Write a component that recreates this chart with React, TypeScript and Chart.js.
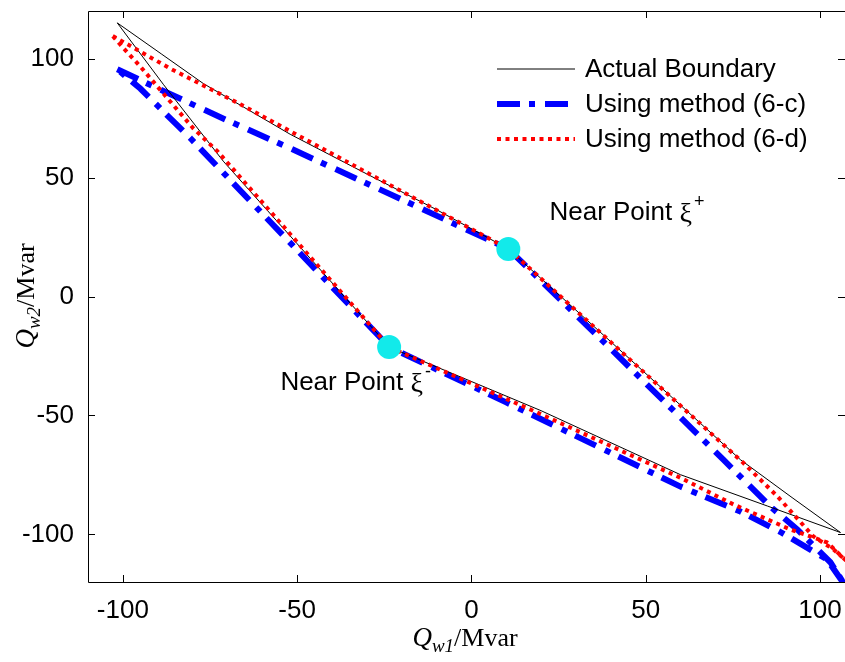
import React, { useEffect, useRef } from "react";
import { Chart, registerables } from "chart.js";

Chart.register(...registerables);

// ---- data ----
const xTicks = [-100, -50, 0, 50, 100];
const yTicks = [-100, -50, 0, 50, 100];

const legendLabels = ["Actual Boundary", "Using method (6-c)", "Using method (6-d)"];

const actualX = [-101.6, -89, -76.9, -52, -30, -10, 10.6, 40, 77.2, 92, 105.9, 85, 60, 20, -23.5, -50, -71.2, -88.3, -101.6];
const actualY = [115, 102, 89.5, 68.2, 51.5, 36.5, 20, -19, -68.6, -84.5, -99.2, -88.1, -74.9, -48, -21.3, 22.2, 56.9, 89, 115];

const methodCX = [-101.6, -90, -70, -52, -20, 10.6, 40, 72.3, 85.8, 93.5, 103, 107.5, 102, 88.7, 77.2, 60, 37, 10, -23.5, -50, -80.6, -95, -101.6];
const methodCY = [95.5, 87.5, 74, 62.3, 40.8, 20, -22, -68.6, -88.3, -97.9, -111.7, -122, -110.5, -99, -90.4, -79.9, -63.6, -44.5, -21.3, 19.5, 66.5, 87.4, 95.5];

const methodDX = [-102.9, -86.4, -66.3, -52, -20, 10.6, 40, 78, 87.8, 98.1, 103.9, 107.5, 102, 91.5, 75.2, 60, 20, -23.5, -50, -72.9, -79.8, -87.2, -95, -100.7, -102.9];
const methodDY = [109.5, 95.8, 80.8, 69.5, 44.2, 20, -19.2, -69.9, -84, -100.8, -106.3, -111, -103.3, -97.9, -87.4, -76.2, -49.5, -21.3, 22.9, 61.1, 70.7, 83.3, 96.7, 105.8, 109.5];

const nearX = [10.6, -23.6];
const nearY = [20, -21.2];
const nearSup = ["+", "-"];
const nearLabelX = [22.4, -54.8];
const nearLabelY = [35.2, -36.4];

const SANS = '"Liberation Sans", Arial, sans-serif';
const SERIF = '"Liberation Serif", "Times New Roman", serif';

const toPts = (xs: number[], ys: number[]) => xs.map((x, i) => ({ x, y: ys[i] }));

const zeroPad = (scale: any) => {
  scale.paddingTop = 0;
  scale.paddingBottom = 0;
  scale.paddingLeft = 0;
  scale.paddingRight = 0;
};

const decorPlugin = {
  id: "decor",
  afterDatasetsDraw(chart: any) {
    const { ctx, chartArea: ca, scales } = chart;
    const xs = scales.x;
    const ys = scales.y;
    ctx.save();
    // frame
    ctx.strokeStyle = "#000";
    ctx.lineWidth = 1;
    ctx.beginPath();
    ctx.moveTo(ca.left + 0.5, ca.top + 0.5);
    ctx.lineTo(ca.right + 0.5, ca.top + 0.5);
    ctx.lineTo(ca.right + 0.5, ca.bottom + 0.5);
    ctx.lineTo(ca.left + 0.5, ca.bottom + 0.5);
    ctx.closePath();
    ctx.stroke();
    // inward ticks
    const tl = 7;
    ctx.beginPath();
    xTicks.forEach((v) => {
      const px = Math.round(xs.getPixelForValue(v)) + 0.5;
      ctx.moveTo(px, ca.bottom);
      ctx.lineTo(px, ca.bottom - tl);
      ctx.moveTo(px, ca.top);
      ctx.lineTo(px, ca.top + tl);
    });
    yTicks.forEach((v) => {
      const py = Math.round(ys.getPixelForValue(v)) + 0.5;
      ctx.moveTo(ca.left, py);
      ctx.lineTo(ca.left + tl, py);
      ctx.moveTo(ca.right, py);
      ctx.lineTo(ca.right - tl, py);
    });
    ctx.stroke();

    // near point labels
    ctx.fillStyle = "#000";
    ctx.textBaseline = "middle";
    ctx.textAlign = "left";
    nearLabelX.forEach((lx, i) => {
      const px = xs.getPixelForValue(lx);
      const py = ys.getPixelForValue(nearLabelY[i]);
      ctx.font = `26px ${SANS}`;
      const base = "Near Point ";
      ctx.fillText(base, px, py);
      let w = ctx.measureText(base).width;
      ctx.font = `28px ${SERIF}`;
      ctx.fillText("ξ", px + w, py + 2);
      w += ctx.measureText("ξ").width;
      ctx.font = `18px ${SANS}`;
      ctx.fillText(nearSup[i], px + w + 2, py - 11);
    });

    // legend
    const lx0 = ca.left + 409;
    const ly0 = ca.top + 58;
    const gap = 35;
    legendLabels.forEach((lab, i) => {
      const ds = chart.data.datasets[i];
      const y = ly0 + i * gap;
      ctx.save();
      ctx.strokeStyle = ds.borderColor;
      ctx.lineWidth = ds.borderWidth;
      ctx.setLineDash(ds.borderDash || []);
      ctx.lineCap = "butt";
      ctx.beginPath();
      ctx.moveTo(lx0, y);
      ctx.lineTo(lx0 + 78, y);
      ctx.stroke();
      ctx.restore();
      ctx.fillStyle = "#000";
      ctx.font = `26px ${SANS}`;
      ctx.textBaseline = "middle";
      ctx.fillText(lab, lx0 + 88, y + 1);
    });

    // axis titles
    const drawTitle = (cx: number, cy: number, sub: string) => {
      ctx.font = `italic 27px ${SERIF}`;
      const wQ = ctx.measureText("Q").width;
      ctx.font = `italic 19px ${SERIF}`;
      const wS = ctx.measureText(sub).width;
      ctx.font = `26px ${SERIF}`;
      const wM = ctx.measureText("/Mvar").width;
      let x = cx - (wQ + wS + wM) / 2;
      ctx.textBaseline = "alphabetic";
      ctx.font = `italic 27px ${SERIF}`;
      ctx.fillText("Q", x, cy);
      x += wQ;
      ctx.font = `italic 19px ${SERIF}`;
      ctx.fillText(sub, x, cy + 6);
      x += wS;
      ctx.font = `26px ${SERIF}`;
      ctx.fillText("/Mvar", x, cy);
    };
    drawTitle(465, 646, "w1");
    ctx.save();
    ctx.translate(34, 296);
    ctx.rotate(-Math.PI / 2);
    drawTitle(0, 0, "w2");
    ctx.restore();

    ctx.restore();
  },
};

export default function App() {
  const ref = useRef<HTMLCanvasElement | null>(null);
  useEffect(() => {
    if (!ref.current) return;
    const chart = new Chart(ref.current, {
      type: "scatter",
      data: {
        datasets: [
          {
            label: legendLabels[0],
            data: toPts(actualX, actualY),
            showLine: true,
            borderColor: "#000000",
            borderWidth: 1,
            pointRadius: 0,
            order: 2,
          },
          {
            label: legendLabels[1],
            data: toPts(methodCX, methodCY),
            showLine: true,
            borderColor: "#0000ff",
            borderWidth: 6,
            borderDash: [23, 9, 6, 10],
            borderCapStyle: "butt",
            pointRadius: 0,
            order: 3,
          },
          {
            label: legendLabels[2],
            data: toPts(methodDX, methodDY),
            showLine: true,
            borderColor: "#ff0000",
            borderWidth: 4,
            borderDash: [4, 4.5],
            borderCapStyle: "butt",
            pointRadius: 0,
            order: 1,
          },
          {
            label: "near",
            data: toPts(nearX, nearY),
            showLine: false,
            pointRadius: 12,
            pointBorderWidth: 0,
            backgroundColor: "#12eaea",
            borderColor: "#12eaea",
            order: 0,
          },
        ],
      },
      options: {
        animation: false,
        responsive: false,
        devicePixelRatio: 1,
        layout: { autoPadding: false, padding: { top: 11, right: 0, left: 0, bottom: 0 } },
        plugins: { legend: { display: false }, tooltip: { enabled: false } },
        scales: {
          x: {
            type: "linear",
            min: -110,
            max: 107.2,
            grid: { display: false },
            border: { display: false },
            afterBuildTicks: (axis: any) => {
              axis.ticks = xTicks.map((v) => ({ value: v }));
            },
            afterFit: (scale: any) => {
              scale.height = 80;
              zeroPad(scale);
            },
            ticks: {
              color: "#000",
              padding: 5,
              maxRotation: 0,
              font: { family: SANS, size: 26 },
            },
          },
          y: {
            type: "linear",
            min: -120,
            max: 120,
            grid: { display: false },
            border: { display: false },
            afterBuildTicks: (axis: any) => {
              axis.ticks = yTicks.map((v) => ({ value: v }));
            },
            afterFit: (scale: any) => {
              scale.width = 88;
              zeroPad(scale);
            },
            ticks: {
              color: "#000",
              padding: 6,
              font: { family: SANS, size: 26 },
            },
          },
        },
      },
      plugins: [decorPlugin],
    });
    return () => chart.destroy();
  }, []);
  return (
    <div style={{ position: "fixed", left: 0, top: 0, width: 845, height: 662, background: "#fff" }}>
      <canvas ref={ref} width={845} height={662} style={{ width: 845, height: 662, display: "block" }} />
    </div>
  );
}
